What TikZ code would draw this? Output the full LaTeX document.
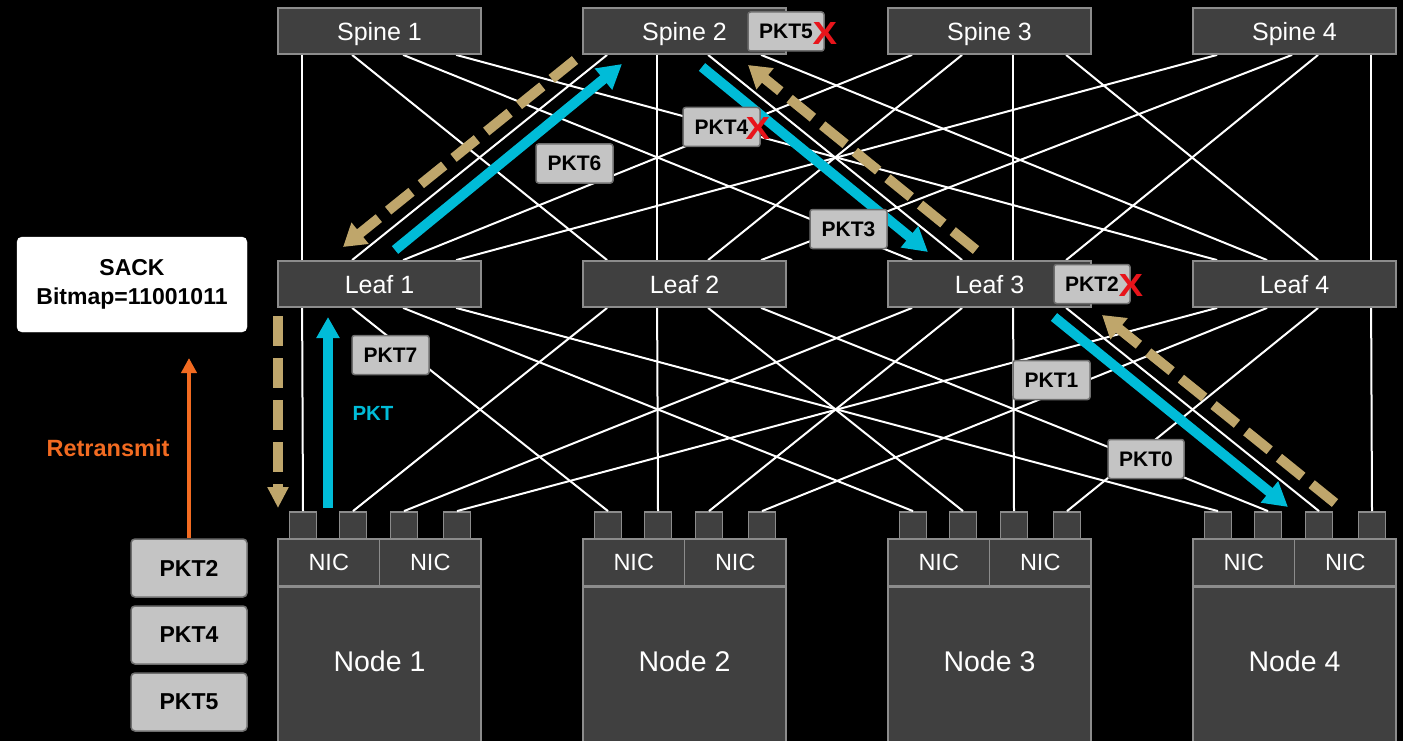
\documentclass[tikz,border=0pt]{standalone}
\usepackage{fontspec}
\setmainfont{Liberation Sans}
\usetikzlibrary{arrows.meta,calc}
\definecolor{boxfill}{HTML}{404040}
\definecolor{boxline}{HTML}{8C8C8C}
\definecolor{pktfill}{HTML}{C4C4C4}
\definecolor{pktline}{HTML}{6E6E6E}
\definecolor{acyan}{HTML}{00BCD8}
\definecolor{atan}{HTML}{BFA66B}
\definecolor{aorange}{HTML}{F26B21}
\definecolor{xred}{HTML}{E8141B}
\begin{document}
\begin{tikzpicture}[x=1pt,y=-1pt,
  box/.style={draw=boxline, fill=boxfill, line width=1.8pt, text=white, inner sep=0pt},
  swbox/.style={box, minimum width=203pt, minimum height=46pt, text depth=0pt, font=\fontsize{25}{28}\selectfont},
  nicbox/.style={box, minimum width=101.5pt, minimum height=47pt, font=\fontsize{23.5}{26}\selectfont},
  port/.style={draw=boxline, fill=boxfill, line width=1.8pt, minimum width=27pt, minimum height=27pt, inner sep=0pt},
  link/.style={white, line width=2pt},
  pkt/.style={draw=pktline, fill=pktfill, line width=1.5pt, rounded corners=2.5pt, inner sep=0pt, minimum width=77pt, minimum height=39pt, font=\bfseries\fontsize{21}{24}\selectfont, text=black},
  bigpkt/.style={pkt, minimum width=116pt, minimum height=58pt, rounded corners=4pt, font=\bfseries\fontsize{23}{26}\selectfont},
  cross/.style={text=xred, font=\bfseries\fontsize{32}{34}\selectfont, inner sep=0pt, xscale=1.15},
  cyanarrow/.style={draw=acyan, line width=10pt, -{Triangle[width=26pt,length=24pt]}},
  tanarrow/.style={draw=atan, line width=10pt, dash pattern=on 30pt off 12pt, -{Triangle[width=26pt,length=22pt]}},
]
\useasboundingbox (0,0) rectangle (1403,741);
\clip (0,0) rectangle (1403,741);
\fill[black] (0,0) rectangle (1403,741);

% spines, leaves, nodes
\foreach \j in {1,...,4}{
  \pgfmathsetmacro\L{278+305*(\j-1)}
  \node[swbox] (sp-\j) at (\L+101.5,31) {Spine \j};
  \node[swbox] (lf-\j) at (\L+101.5,284) {Leaf \j};
  \node[box, minimum width=203pt, minimum height=170pt, anchor=north] (nd-\j) at (\L+101.5,586) {};
  \node[text=white, font=\fontsize{28.5}{30}\selectfont, inner sep=0pt] (ndt-\j) at (\L+101.5,661) {Node \j};
  \node[nicbox] (nica-\j) at (\L+50.75,562.5) {NIC};
  \node[nicbox] (nicb-\j) at (\L+152.25,562.5) {NIC};
  \foreach \i/\o in {1/25,2/75,3/126,4/179}{
    \node[port] (pt-\j-\i) at (\L+\o,525.5) {};
    \coordinate (sb-\j-\i) at ($(sp-\j.south west)+(\o,0)$);
    \coordinate (lt-\j-\i) at ($(lf-\j.north west)+(\o,0)$);
    \coordinate (lb-\j-\i) at ($(lf-\j.south west)+(\o,0)$);
  }
}
\coordinate (sb-4-2) at ($(sp-4.south west)+(100,0)$);

% links
\foreach \j in {1,...,4}{
  \foreach \i in {1,...,4}{
    \draw[link] (sb-\j-\i) -- (lt-\i-\j);
    \draw[link] (pt-\i-\j.north) -- (lb-\j-\i);
  }
}

% redraw boxes on top of link ends
\foreach \j in {1,...,4}{
  \node[swbox] at (sp-\j) {Spine \j};
  \node[swbox] at (lf-\j) {Leaf \j};
}

% arrows
\coordinate (c1s) at (395,250); \coordinate (c1e) at (622,64);
\coordinate (c2s) at (702,67);  \coordinate (c2e) at (928,252);
\coordinate (c3s) at (1054,317); \coordinate (c3e) at (1288,507);
\coordinate (c4s) at (328,508); \coordinate (c4e) at (328,317);
\coordinate (t1s) at (575,60);  \coordinate (t1e) at (343,247);
\coordinate (t2s) at (976,250); \coordinate (t2e) at (748,65);
\coordinate (t3s) at (1335,503); \coordinate (t3e) at (1102,315);
\coordinate (t4s) at (278,316); \coordinate (t4e) at (278,508);

\draw[tanarrow] (t1s) -- (t1e);
\draw[tanarrow] (t2s) -- (t2e);
\draw[tanarrow] (t3s) -- (t3e);
\draw[tanarrow, -{Triangle[width=20pt,length=21pt]}] (t4s) -- (t4e);
\draw[cyanarrow] (c1s) -- (c1e);
\draw[cyanarrow] (c2s) -- (c2e);
\draw[cyanarrow] (c3s) -- (c3e);
\draw[cyanarrow, -{Triangle[width=22pt,length=21pt]}] (c4s) -- (c4e);

\node[text=acyan, font=\bfseries\fontsize{20.5}{22}\selectfont, inner sep=0pt] (pktlbl) at (373,413) {PKT};

% packet labels
\node[pkt, minimum width=76pt] (k5) at (786,31.5) {PKT5};
\node[pkt] (k4) at (721.5,127) {PKT4};
\node[pkt] (k6) at (574.5,163.5) {PKT6};
\node[pkt] (k3) at (848.5,229) {PKT3};
\node[pkt, minimum width=76pt] (k2) at (1092,284) {PKT2};
\node[pkt] (k1) at (1051.5,380) {PKT1};
\node[pkt, minimum width=76pt] (k0) at (1146,459) {PKT0};
\node[pkt] (k7) at (390.5,355) {PKT7};
\node[cross] (x5) at (825,33) {X};
\node[cross] (x4) at (758,128.5) {X};
\node[cross] (x2) at (1131,285) {X};

% left side
\node[draw=white, fill=white, rounded corners=5pt, minimum width=230pt, minimum height=95pt, inner sep=0pt, align=center, text=black, font=\bfseries\fontsize{23}{29}\selectfont] (sack) at (132,284.5) {SACK\\Bitmap=11001011};
\node[bigpkt] (r2) at (189,568) {PKT2};
\node[bigpkt] (r4) at (189,635) {PKT4};
\node[bigpkt] (r5) at (189,702) {PKT5};
\coordinate (rt) at (189,358);
\draw[aorange, line width=4pt, -{Triangle[width=15pt,length=15pt]}] (r2.north) -- (rt);
\node[text=aorange, font=\bfseries\fontsize{23.5}{26}\selectfont, inner sep=0pt] (retx) at (108,448) {Retransmit};
\end{tikzpicture}
\end{document}
